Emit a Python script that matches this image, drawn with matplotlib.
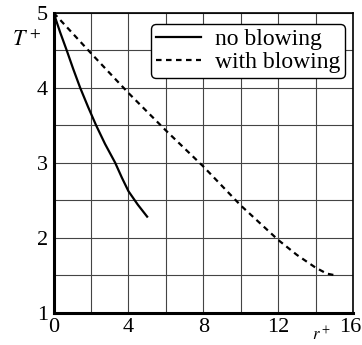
import matplotlib
matplotlib.use("Agg")
import matplotlib.pyplot as plt
import matplotlib.transforms as mtransforms

# donnees
r_no = [0, 0.35, 0.7, 1.05, 1.42, 1.85, 2.27, 2.75, 3.29, 3.65, 4.0, 4.5, 5.0]
T_no = [5.0, 4.74, 4.5, 4.25, 4.0, 3.74, 3.5, 3.25, 3.0, 2.8, 2.62, 2.44, 2.28]

r_bl = [0, 2, 4, 6, 8, 10, 12, 13, 14, 14.6, 15]
T_bl = [5.0, 4.46, 3.93, 3.43, 2.95, 2.43, 1.97, 1.77, 1.6, 1.52, 1.5]

xticks = [0, 4, 8, 12, 16]
yticks = [1, 2, 3, 4, 5]

plt.rcParams["font.family"] = ["Liberation Serif", "DejaVu Serif"]

fig = plt.figure(figsize=(3.62, 3.45), dpi=100)
ax = fig.add_axes([0.148, 0.094, 0.827, 0.869])

ax.plot(r_no, T_no, color="black", lw=1.6, label="no blowing")
ax.plot(r_bl, T_bl, color="black", lw=1.6, ls=(0, (2.5, 2)), label="with blowing")

ax.set_xlim(0, 16)
ax.set_ylim(1, 5)
xgrid = list(range(0, 17, 2))
ygrid = [1 + 0.5 * i for i in range(9)]
ax.set_xticks(xgrid)
ax.set_xticklabels([str(x) if x in xticks else "" for x in xgrid])
ax.set_yticks(ygrid)
ax.set_yticklabels([str(int(y)) if y in yticks else "" for y in ygrid])
ax.tick_params(length=0, labelsize=16, pad=4)
ax.grid(True, color="#444444", lw=0.8)

# le "16" est colle au bord droit
lab16 = ax.get_xticklabels()[-1]
lab16.set_transform(lab16.get_transform() + mtransforms.ScaledTranslation(-3 / 100, 0, fig.dpi_scale_trans))

for s in ["left", "bottom"]:
    ax.spines[s].set_linewidth(2.2)
for s in ["top", "right"]:
    ax.spines[s].set_linewidth(1.2)

ax.text(-0.09, 0.905, "$T^+$", transform=ax.transAxes, fontsize=16,
        ha="center", va="center", math_fontfamily="stix")
ax.text(0.895, -0.075, "$r^+$", transform=ax.transAxes, fontsize=12,
        ha="center", va="center", math_fontfamily="stix")

leg = ax.legend(loc="upper right", bbox_to_anchor=(0.973, 0.963), fontsize=17,
                handlelength=1.9, handletextpad=0.6, borderpad=0.2,
                labelspacing=0.05, frameon=True, fancybox=True, framealpha=1,
                borderaxespad=0)
leg.get_frame().set_edgecolor("black")
leg.get_frame().set_linewidth(1.0)

fig.savefig("out.png", dpi=100)
